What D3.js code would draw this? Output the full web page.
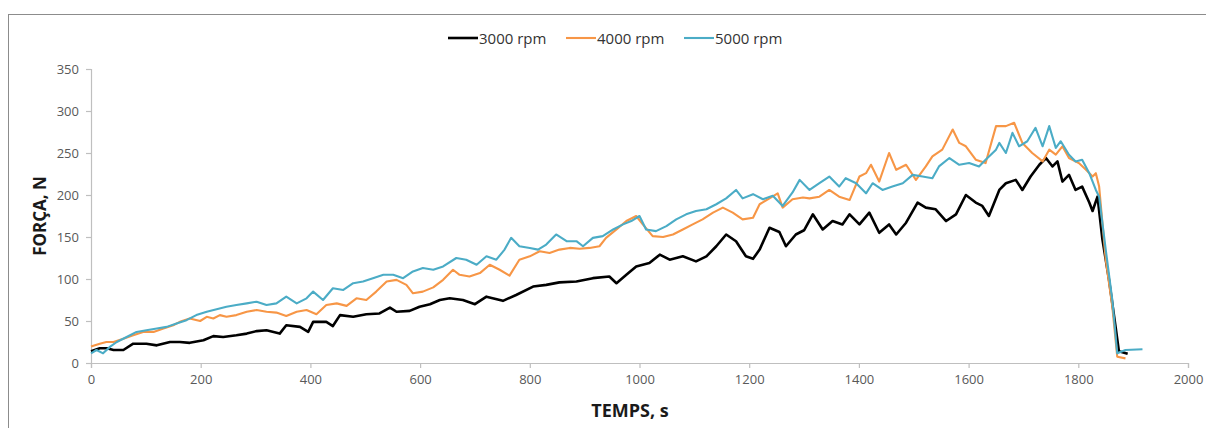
<!DOCTYPE html>
<html>
<head>
<meta charset="utf-8">
<script src="https://cdn.jsdelivr.net/npm/d3@7"></script>
<style>
  html, body { margin: 0; padding: 0; background: #fff; }
  svg { display: block; }
  text { font-family: "Open Sans", "Noto Sans", sans-serif; }
</style>
</head>
<body>
<svg id="chart" width="1206" height="428"></svg>
<script>
// Force measurements (N) against time (s) for three spindle speeds
const time3000 = [0,16,29,41,59,77,101,120,144,162,180,205,223,241,265,284,302,320,344,356,381,396,405,429,441,454,478,502,526,545,557,581,599,618,636,654,678,700,721,751,775,806,830,854,885,915,945,958,976,994,1018,1037,1055,1079,1103,1122,1140,1158,1176,1194,1207,1219,1237,1255,1267,1285,1300,1316,1334,1352,1370,1383,1401,1419,1437,1455,1468,1486,1507,1522,1540,1559,1577,1595,1613,1625,1637,1656,1668,1686,1698,1713,1729,1741,1753,1762,1771,1783,1795,1807,1820,1826,1835,1844,1856,1868,1874,1890];
const force3000 = [14,17.5,17.5,15.5,15.5,23,23,21,25,25,24,27,32,31,33,35,38,39,35,45,43,37,49,49,44,57,55,58,59,66,61,62,67,70,75,77,75,70,79,74,81,91,93,96,97,101,103,95,105,115,119,129,123,127,121,127,139,153,145,127,124,135,161,156,139,153,158,177,159,169,165,177,165,179,155,165,153,167,191,185,183,169,177,200,191,187,175,206,214,218,206,222,236,244,234,240,216,224,206,210,191,181,198,147,99,43,14,11];

const time4000 = [0,16,28,41,59,77,95,114,132,150,162,180,199,211,223,235,247,265,284,302,320,338,356,375,393,411,429,448,466,484,502,520,539,557,575,587,605,624,642,660,672,690,709,727,745,763,781,800,818,836,854,873,891,909,927,939,958,976,994,1006,1024,1043,1061,1079,1097,1115,1134,1152,1170,1188,1207,1219,1237,1252,1261,1279,1298,1310,1328,1346,1364,1383,1401,1413,1422,1437,1455,1468,1486,1504,1522,1534,1552,1571,1583,1595,1613,1631,1650,1668,1683,1698,1716,1735,1747,1759,1771,1783,1801,1814,1826,1832,1838,1850,1862,1871,1886];
const force4000 = [19.5,23,25,25,29,33,37,37,41,45,49,53,50,55,53,57,55,57,61,63,61,60,56,61,63,58,69,71,68,77,75,85,97,99,93,83,85,90,99,111,105,103,107,117,111,104,123,127,133,131,135,137,136,137,139,149,159,169,175,165,151,150,153,159,165,171,179,185,179,171,173,189,196,202,185,195,197,196,198,206,198,194,222,226,236,216,250,230,236,218,234,246,254,278,262,258,242,238,282,282,286,262,250,240,254,248,258,244,238,230,222,226,210,123,67,7.5,5.5];

const time5000 = [0,10,22,35,47,65,83,101,120,138,156,174,192,211,229,247,265,284,302,320,338,356,375,393,405,423,441,460,478,496,514,533,551,569,587,605,624,642,666,684,703,721,739,754,766,781,800,815,830,848,867,885,897,915,933,952,970,985,1000,1012,1030,1049,1067,1085,1103,1122,1140,1158,1176,1188,1207,1225,1243,1261,1279,1292,1310,1328,1346,1364,1376,1395,1413,1425,1443,1461,1480,1498,1516,1534,1546,1565,1583,1601,1619,1631,1650,1656,1668,1680,1692,1707,1722,1735,1747,1759,1768,1783,1795,1807,1820,1832,1838,1850,1862,1871,1886,1917];
const force5000 = [11.5,15.5,11.5,19.5,25,31,37,39,41,43,47,51,57,61,64,67,69,71,73,69,71,79,71,77,85,75,89,87,95,97,101,105,105,101,109,113,111,115,125,123,117,127,123,135,149,139,137,135,141,153,145,145,139,149,151,159,165,169,175,159,157,163,171,177,181,183,189,196,206,196,201,195,199,187,203,218,206,214,222,210,220,214,202,214,206,210,214,224,222,220,234,244,236,238,234,242,254,262,250,274,258,264,280,258,282,256,264,248,240,242,226,206,198,135,75,11.5,15.5,16.3];

const seriesNames = ["3000 rpm", "4000 rpm", "5000 rpm"];
const seriesColors = ["#000000", "#F79646", "#4BACC6"];
const seriesWidths = [2.6, 2.1, 2.1];

const yTicks = [0, 50, 100, 150, 200, 250, 300, 350];
const xTicks = [0, 200, 400, 600, 800, 1000, 1200, 1400, 1600, 1800, 2000];

const xTitle = "TEMPS, s";
const yTitle = "FORÇA, N";

const series = [
  { name: seriesNames[0], t: time3000, v: force3000 },
  { name: seriesNames[1], t: time4000, v: force4000 },
  { name: seriesNames[2], t: time5000, v: force5000 }
];

const svg = d3.select("#chart");
const margin = { left: 91, right: 18, top: 69, bottom: 65 };
const W = 1206, H = 428;

// outer chart frame (open on the right and bottom edges)
svg.append("rect")
  .attr("x", 8.5).attr("y", 14.5)
  .attr("width", 1220).attr("height", 440)
  .attr("fill", "none").attr("stroke", "#8c8c8c").attr("stroke-width", 1);

const x = d3.scaleLinear().domain([0, 2000]).range([margin.left, W - margin.right]);
const y = d3.scaleLinear().domain([0, 350]).range([H - margin.bottom, margin.top]);

const axisColor = "#bfbfbf";
const labelColor = "#595959";
const plain = d3.format("d");

// y axis
const gy = svg.append("g")
  .attr("transform", `translate(${margin.left},0)`)
  .call(d3.axisLeft(y).tickValues(yTicks).tickFormat(plain).tickSize(5).tickPadding(7));
// x axis
const gx = svg.append("g")
  .attr("transform", `translate(0,${y(0)})`)
  .call(d3.axisBottom(x).tickValues(xTicks).tickFormat(plain).tickSize(5).tickPadding(7));

[gx, gy].forEach(g => {
  g.selectAll("path.domain").attr("stroke", axisColor).attr("stroke-width", 1.2);
  g.selectAll(".tick line").attr("stroke", axisColor).attr("stroke-width", 1.2);
  g.selectAll(".tick text")
    .attr("fill", labelColor)
    .style("font-family", '"Open Sans", sans-serif')
    .style("font-size", "13px");
});

// data lines
const line = d3.line()
  .x(d => x(d[0]))
  .y(d => y(d[1]));

series.forEach((s, i) => {
  const pts = s.t.map((t, k) => [t, s.v[k]]);
  svg.append("path")
    .datum(pts)
    .attr("fill", "none")
    .attr("stroke", seriesColors[i])
    .attr("stroke-width", seriesWidths[i])
    .attr("stroke-linejoin", "round")
    .attr("d", line);
});

// legend
const legendX = [448, 566, 684];
const legend = svg.append("g");
seriesNames.forEach((name, i) => {
  legend.append("line")
    .attr("x1", legendX[i]).attr("x2", legendX[i] + 30)
    .attr("y1", 38).attr("y2", 38)
    .attr("stroke", seriesColors[i])
    .attr("stroke-width", seriesWidths[i]);
  legend.append("text")
    .attr("x", legendX[i] + 31).attr("y", 43.5)
    .attr("fill", "#333")
    .style("font-size", "15px")
    .text(name);
});

// axis titles
svg.append("text")
  .attr("x", 630).attr("y", 417)
  .attr("text-anchor", "middle")
  .attr("fill", "#1a1a1a")
  .style("font-size", "18px").style("font-weight", "bold")
  .text(xTitle);

svg.append("text")
  .attr("transform", `translate(46,${(y(0) + y(350)) / 2}) rotate(-90)`)
  .attr("text-anchor", "middle")
  .attr("fill", "#1a1a1a")
  .style("font-size", "17px").style("font-weight", "bold")
  .text(yTitle);
</script>
</body>
</html>
